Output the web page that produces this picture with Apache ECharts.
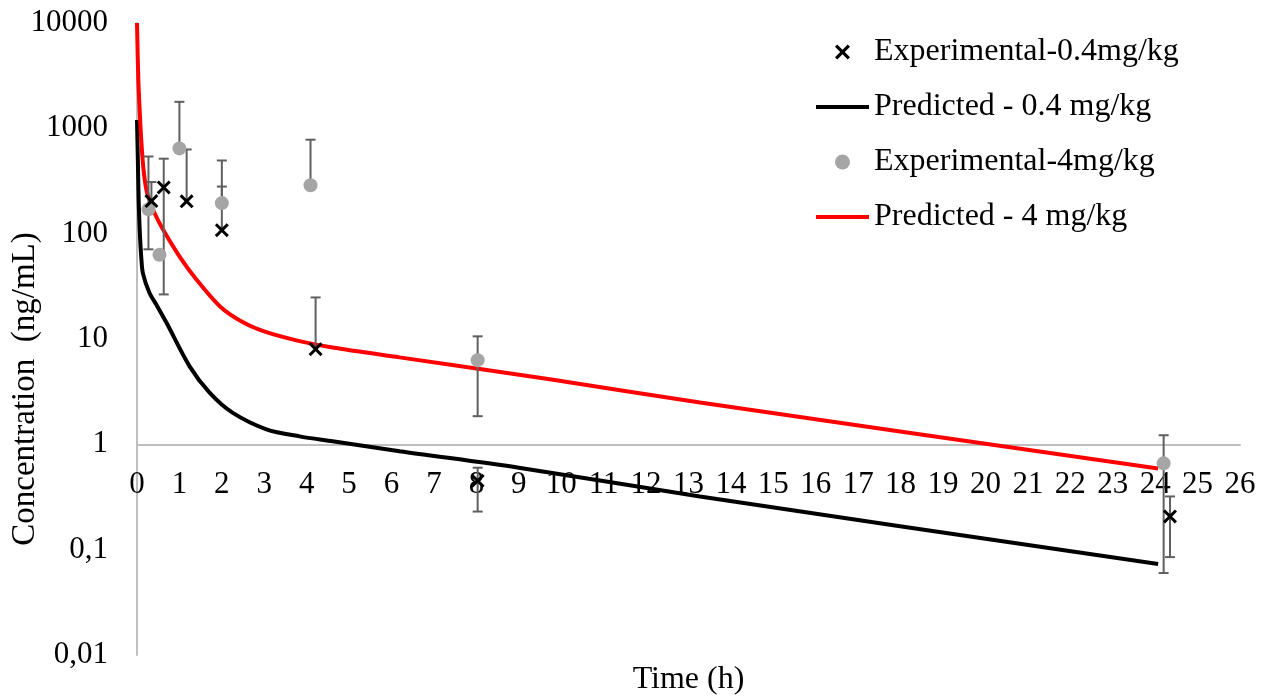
<!DOCTYPE html>
<html>
<head>
<meta charset="utf-8">
<script src="https://cdn.jsdelivr.net/npm/echarts@6/dist/echarts.min.js"></script>
<style>
  html, body { margin: 0; padding: 0; background: #fff; }
  #chart { width: 1273px; height: 698px; }
</style>
</head>
<body>
<div id="chart"></div>
<script>
// tick labels of the log axis (comma decimals as in the original)
const yTicks = [0.01, 0.1, 1, 10, 100, 1000, 10000];

// predicted curve 4 mg/kg
const predT4 = [0, 0.03, 0.07, 0.1, 0.15, 0.22, 0.29, 0.41, 0.61, 1.0, 1.4, 1.95, 2.5, 3.05, 3.83, 4.61, 6.19, 9.73, 13.27, 24.07];
const predV4 = [10000, 3000, 1300, 780, 420, 262, 212, 158, 110, 61, 36.7, 20.5, 14.4, 11.6, 9.55, 8.3, 6.69, 4.14, 2.5, 0.59];

// predicted curve 0.4 mg/kg
const predT04 = [0, 0.02, 0.04, 0.07, 0.1, 0.14, 0.29, 0.48, 0.69, 1.24, 1.71, 2.25, 3.05, 3.83, 4.61, 6.19, 9.0, 13.27, 24.07];
const predV04 = [1200, 500, 200, 95, 60, 42, 27.6, 20.4, 14.4, 5.5, 3.1, 2.0, 1.39, 1.19, 1.07, 0.86, 0.6, 0.32, 0.073];

// experimental 0.4 mg/kg (crosses) with error bar ends (null = not drawn)
const expT04 = [0.34, 0.63, 1.17, 2.0, 4.21, 8.03, 24.35];
const expV04 = [204, 275, 203, 108, 8.0, 0.45, 0.207];
const expLo04 = [null, 26.5, null, null, null, 0.23, 0.085];
const expHi04 = [309, 515, 630, 280, 24.8, 0.6, 0.32];

// experimental 4 mg/kg (grey dots)
const expT4 = [0.27, 0.53, 1.0, 2.0, 4.09, 8.03, 24.2];
const expV4 = [170, 63, 645, 195, 288, 6.3, 0.66];
const expLo4 = [71, null, null, null, null, 1.85, 0.06];
const expHi4 = [540, null, 1785, 495, 780, 10.6, 1.22];

const FONT = 'Liberation Serif';
const crossPath = 'path://M0,1.5L1.5,0L5,3.5L8.5,0L10,1.5L6.5,5L10,8.5L8.5,10L5,6.5L1.5,10L0,8.5L3.5,5Z';

const zip = (a, b) => a.map((x, i) => [x, b[i]]);
const errData = (t, v, lo, hi) => t.map((x, i) => [x, v[i], lo[i] == null ? v[i] : lo[i], hi[i] == null ? v[i] : hi[i]]);

function renderErr(params, api) {
  const x = api.value(0), v = api.value(1), lo = api.value(2), hi = api.value(3);
  if (lo === hi) return;
  const pLo = api.coord([x, lo]);
  const pHi = api.coord([x, hi]);
  const st = { stroke: '#5f5f5f', lineWidth: 2 };
  const kids = [{ type: 'line', shape: { x1: pLo[0], y1: pLo[1], x2: pHi[0], y2: pHi[1] }, style: st }];
  const w = 5;
  if (hi !== v) kids.push({ type: 'line', shape: { x1: pHi[0] - w, y1: pHi[1], x2: pHi[0] + w, y2: pHi[1] }, style: st });
  if (lo !== v) kids.push({ type: 'line', shape: { x1: pLo[0] - w, y1: pLo[1], x2: pLo[0] + w, y2: pLo[1] }, style: st });
  return { type: 'group', children: kids };
}

const chart = echarts.init(document.getElementById('chart'));

const option = {
  animation: false,
  textStyle: { fontFamily: FONT, color: '#000' },
  grid: { left: 137, right: 33, top: 23, bottom: 43, outerBoundsMode: 'none', containLabel: false },
  legend: {
    data: [
      'Experimental-0.4mg/kg',
      { name: 'Predicted - 0.4 mg/kg', itemStyle: { opacity: 0 }, lineStyle: { width: 4 } },
      'Experimental-4mg/kg',
      { name: 'Predicted - 4 mg/kg', itemStyle: { opacity: 0 }, lineStyle: { width: 4 } }
    ],
    orient: 'vertical',
    left: 809,
    top: 31,
    itemWidth: 53,
    itemHeight: 15,
    itemGap: 23,
    lineStyle: { width: 4 },
    textStyle: { fontFamily: FONT, fontSize: 32, color: '#000', lineHeight: 30 }
  },
  xAxis: [
    {
      type: 'value',
      min: 0,
      max: 26,
      interval: 1,
      position: 'bottom',
      offset: -210,
      axisLine: { onZero: false, lineStyle: { color: '#bfbfbf', width: 2 } },
      axisTick: { show: false },
      splitLine: { show: false },
      axisLabel: { fontFamily: FONT, fontSize: 31, color: '#000', margin: 24, showMinLabel: true, showMaxLabel: true }
    },
    {
      type: 'value',
      min: 0,
      max: 26,
      position: 'bottom',
      name: 'Time (h)',
      nameLocation: 'middle',
      nameGap: 9,
      nameTextStyle: { fontFamily: FONT, fontSize: 32, color: '#000' },
      axisLine: { show: false, onZero: false },
      axisTick: { show: false },
      axisLabel: { show: false },
      splitLine: { show: false }
    }
  ],
  yAxis: {
    type: 'log',
    logBase: 10,
    min: yTicks[0],
    max: yTicks[yTicks.length - 1],
    name: 'Concentration  (ng/mL)',
    nameLocation: 'middle',
    nameGap: 95,
    nameMoveOverlap: false,
    nameTextStyle: { fontFamily: FONT, fontSize: 33, color: '#000', padding: [0, 100, 0, 0] },
    axisLine: { show: true, onZero: false, lineStyle: { color: '#bfbfbf', width: 2 } },
    axisTick: { show: false },
    splitLine: { show: false },
    axisLabel: {
      fontFamily: FONT,
      fontSize: 31,
      color: '#000',
      margin: 29,
      formatter: v => String(v).replace('.', ',')
    }
  },
  series: [
    {
      name: 'Predicted - 0.4 mg/kg',
      type: 'line',
      data: zip(predT04, predV04),
      smooth: 0.3,
      symbol: 'none',
      lineStyle: { color: '#000', width: 4 },
      itemStyle: { color: '#000' },
      z: 2
    },
    {
      name: 'Predicted - 4 mg/kg',
      type: 'line',
      data: zip(predT4, predV4),
      smooth: 0.3,
      symbol: 'none',
      lineStyle: { color: '#ff0000', width: 4 },
      itemStyle: { color: '#ff0000' },
      z: 2
    },
    {
      name: 'err4',
      type: 'custom',
      renderItem: renderErr,
      data: errData(expT4, expV4, expLo4, expHi4),
      encode: { x: 0, y: 1 },
      z: 3
    },
    {
      name: 'err04',
      type: 'custom',
      renderItem: renderErr,
      data: errData(expT04, expV04, expLo04, expHi04),
      encode: { x: 0, y: 1 },
      z: 3
    },
    {
      name: 'Experimental-4mg/kg',
      type: 'scatter',
      data: zip(expT4, expV4),
      symbol: 'circle',
      symbolSize: 14,
      itemStyle: { color: '#a5a5a5', opacity: 1 },
      z: 4
    },
    {
      name: 'Experimental-0.4mg/kg',
      type: 'scatter',
      data: zip(expT04, expV04),
      symbol: crossPath,
      symbolSize: 14,
      itemStyle: { color: '#000', opacity: 1 },
      z: 5
    }
  ]
};

chart.setOption(option);
window.addEventListener('resize', () => chart.resize());
</script>
</body>
</html>
